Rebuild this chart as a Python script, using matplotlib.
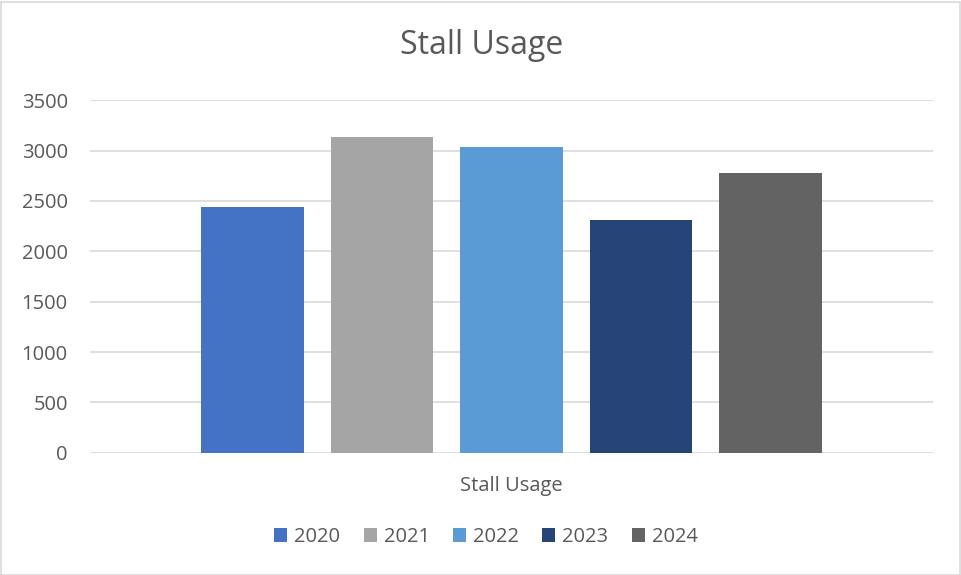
import numpy as np
import matplotlib.pyplot as plt
from matplotlib.patches import Rectangle

# dados do grafico
anos = ['2020', '2021', '2022', '2023', '2024']
valores = [2440, 3135, 3036, 2311, 2778]
cores = ['#4472C4', '#A5A5A5', '#5B9BD5', '#264478', '#636363']
categoria = 'Stall Usage'
yticks = [0, 500, 1000, 1500, 2000, 2500, 3000, 3500]

plt.rcParams['font.family'] = ['Open Sans', 'DejaVu Sans']
texto = '#595959'

fig = plt.figure(figsize=(9.61, 5.75), dpi=100)
ax = fig.add_axes([90 / 961, 122.3 / 575, 843 / 961, 352.4 / 575])

posicoes = np.arange(len(anos)) - (len(anos) - 1) / 2
for p, v, c, a in zip(posicoes, valores, cores, anos):
    ax.bar(p, v, width=0.795, color=c, label=a, zorder=3)

ax.set_xlim(-3.255, 3.255)
ax.set_ylim(0, 3500)
ax.set_yticks(yticks)
ax.set_yticklabels([str(t) for t in yticks], fontsize=14.5, color=texto)
ax.set_xticks([0])
ax.set_xticklabels([categoria], fontsize=14.5, color=texto)
ax.tick_params(axis='y', length=0, pad=16)
ax.tick_params(axis='x', length=0, pad=17)
ax.grid(axis='y', color='#D9D9D9', linewidth=1.2, zorder=0)
for s in ax.spines.values():
    s.set_visible(False)

fig.text(482 / 961, 1 - 45 / 575, 'Stall Usage', ha='center', va='center',
         fontsize=23, color=texto)

fig.legend(loc='center', bbox_to_anchor=(486 / 961, 1 - 537 / 575), ncol=5,
           frameon=False, fontsize=14.5, handlelength=0.65, handleheight=0.65,
           handletextpad=0.35, columnspacing=1.15, labelcolor=texto)

fig.patches.append(Rectangle((0.5 / 961, 0.5 / 575), 1 - 2 / 961, 1 - 2 / 575,
                             transform=fig.transFigure, fill=False,
                             edgecolor='#D9D9D9', linewidth=1.2))

plt.savefig('out.png', dpi=100)
